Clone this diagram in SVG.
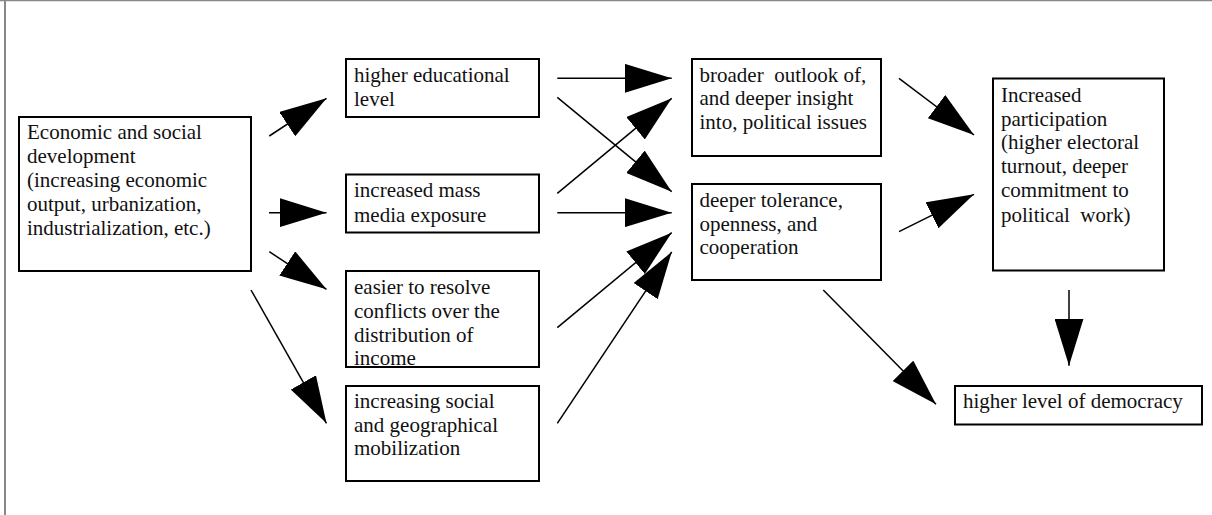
<svg xmlns="http://www.w3.org/2000/svg" width="1212" height="515" viewBox="0 0 1212 515">
  <style>
    .box { fill: #ffffff; stroke: #000000; stroke-width: 2; }
    .lbl { font-family: "Liberation Serif", "Times New Roman", serif; font-size: 21px; fill: #111111; white-space: pre; }
    .con { stroke: #000000; stroke-width: 1.5; fill: none; marker-end: url(#ah); }
    .frame { stroke: #888888; fill: none; }
  </style>
  <defs>
    <marker id="ah" markerUnits="userSpaceOnUse" markerWidth="47" markerHeight="29" refX="47" refY="14.5" orient="auto" viewBox="0 0 47 29">
      <path d="M0,0 L47,14.5 L0,29 Z" fill="#000000"/>
    </marker>
  </defs>
  <rect x="0" y="0" width="1212" height="515" fill="#ffffff"/>
  <g id="frame">
    <line class="frame" x1="0" y1="0.5" x2="1212" y2="0.5" stroke-width="1.5"/>
    <line class="frame" x1="5" y1="0" x2="5" y2="515" stroke-width="2"/>
  </g>

  <g id="connectors">
    <line class="con" x1="269.3" y1="136" x2="326.5" y2="98.3"/>
    <line class="con" x1="269" y1="212.7" x2="326.5" y2="212.7"/>
    <line class="con" x1="269.3" y1="251.7" x2="326.5" y2="289.3"/>
    <line class="con" x1="251" y1="290" x2="326.5" y2="423.3"/>
    <line class="con" x1="557.3" y1="78.3" x2="671.7" y2="78.3"/>
    <line class="con" x1="557.3" y1="97.3" x2="671.7" y2="191.7"/>
    <line class="con" x1="557.3" y1="193.3" x2="671.7" y2="98.3"/>
    <line class="con" x1="557.3" y1="212.7" x2="671.7" y2="212.7"/>
    <line class="con" x1="557.3" y1="327.7" x2="671.7" y2="232.7"/>
    <line class="con" x1="557.3" y1="423.3" x2="671.7" y2="252"/>
    <line class="con" x1="899" y1="78.3" x2="974" y2="135"/>
    <line class="con" x1="899" y1="231.7" x2="974" y2="194.3"/>
    <line class="con" x1="1069" y1="290" x2="1069" y2="365.7"/>
    <line class="con" x1="823.3" y1="290" x2="936" y2="404.3"/>
  </g>

  <g id="node-development">
    <rect class="box" x="19" y="117" width="232" height="154"/>
    <text class="lbl" x="27" y="139.3">Economic and social</text>
    <text class="lbl" x="27" y="163.3">development</text>
    <text class="lbl" x="27" y="187.2">(increasing economic</text>
    <text class="lbl" x="27" y="211.1">output, urbanization,</text>
    <text class="lbl" x="27" y="235">industrialization, etc.)</text>
  </g>

  <g id="node-education">
    <rect class="box" x="346" y="59" width="193" height="58"/>
    <text class="lbl" x="354" y="81.7">higher educational</text>
    <text class="lbl" x="354" y="105.7">level</text>
  </g>

  <g id="node-media">
    <rect class="box" x="346" y="174.5" width="193" height="58"/>
    <text class="lbl" x="354" y="197.3">increased mass</text>
    <text class="lbl" x="354" y="221.5">media exposure</text>
  </g>

  <g id="node-conflicts">
    <rect class="box" x="346" y="271" width="193" height="96"/>
    <text class="lbl" x="354" y="294.3">easier to resolve</text>
    <text class="lbl" x="354" y="318.1">conflicts over the</text>
    <text class="lbl" x="354" y="341.7">distribution of</text>
    <text class="lbl" x="354" y="365">income</text>
  </g>

  <g id="node-mobilization">
    <rect class="box" x="346" y="386" width="193" height="95"/>
    <text class="lbl" x="354" y="408.3">increasing social</text>
    <text class="lbl" x="354" y="431.7">and geographical</text>
    <text class="lbl" x="354" y="454.8">mobilization</text>
  </g>

  <g id="node-outlook">
    <rect class="box" x="692" y="59" width="189" height="97"/>
    <text class="lbl" x="699.5" y="81.7">broader  outlook of,</text>
    <text class="lbl" x="699.5" y="105.3">and deeper insight</text>
    <text class="lbl" x="699.5" y="129.3">into, political issues</text>
  </g>

  <g id="node-tolerance">
    <rect class="box" x="692" y="184" width="189" height="96"/>
    <text class="lbl" x="699.5" y="206.7">deeper tolerance,</text>
    <text class="lbl" x="699.5" y="230.5">openness, and</text>
    <text class="lbl" x="699.5" y="253.8">cooperation</text>
  </g>

  <g id="node-participation">
    <rect class="box" x="993" y="78.5" width="171" height="192"/>
    <text class="lbl" x="1001" y="102.3">Increased</text>
    <text class="lbl" x="1001" y="125.6">participation</text>
    <text class="lbl" x="1001" y="149.4">(higher electoral</text>
    <text class="lbl" x="1001" y="173.3">turnout, deeper</text>
    <text class="lbl" x="1001" y="197.2">commitment to</text>
    <text class="lbl" x="1001" y="221.5">political  work)</text>
  </g>

  <g id="node-democracy">
    <rect class="box" x="955" y="386" width="247" height="38.5"/>
    <text class="lbl" x="963" y="408.3">higher level of democracy</text>
  </g>
</svg>
